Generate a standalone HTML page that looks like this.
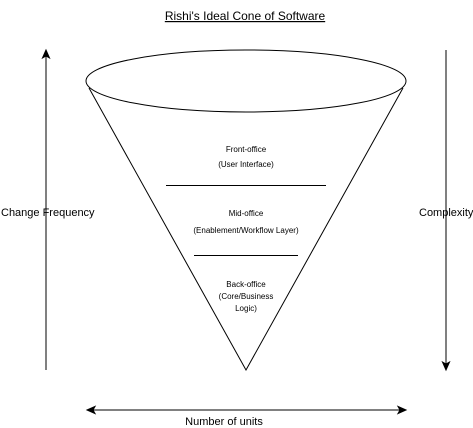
<!DOCTYPE html>
<html><head><meta charset="utf-8"><style>
html,body{margin:0;padding:0;background:#fff;}
svg{display:block;}
text{font-family:"Liberation Sans",Arial,sans-serif;fill:#000;}
</style></head><body>
<svg width="473" height="428" viewBox="0 0 473 428" xmlns="http://www.w3.org/2000/svg">
<text x="245" y="20" font-size="12" text-anchor="middle" text-decoration="underline">Rishi's Ideal Cone of Software</text>
<line x1="166" y1="16.5" x2="326" y2="16.5" stroke="none"/>
<path d="M89,88 L246,370 L403,88" fill="none" stroke="#000" stroke-width="1"/>
<ellipse cx="246" cy="81" rx="160" ry="31" fill="#fff" stroke="#000" stroke-width="1"/>
<line x1="166" y1="185.5" x2="326" y2="185.5" stroke="#000"/>
<line x1="194" y1="255.5" x2="298" y2="255.5" stroke="#000"/>
<g font-size="8" text-anchor="middle">
<text x="246" y="152">Front-office</text>
<text x="246" y="167">(User Interface)</text>
<text x="246" y="216">Mid-office</text>
<text x="246" y="233">(Enablement/Workflow Layer)</text>
<text x="246" y="287">Back-office</text>
<text x="246" y="299">(Core/Business</text>
<text x="246" y="311">Logic)</text>
</g>
<line x1="46" y1="56" x2="46" y2="370" stroke="#000"/>
<path d="M46,50 L42.5,58 L46,56 L49.5,58 Z" fill="#000" stroke="#000"/>
<line x1="446" y1="50" x2="446" y2="364" stroke="#000"/>
<path d="M446,370 L442.5,362 L446,364 L449.5,362 Z" fill="#000" stroke="#000"/>
<line x1="93" y1="410" x2="400" y2="410" stroke="#000"/>
<path d="M87,410 L95,406.5 L93,410 L95,413.5 Z" fill="#000" stroke="#000"/>
<path d="M406,410 L398,406.5 L400,410 L398,413.5 Z" fill="#000" stroke="#000"/>
<g font-size="11">
<text x="1" y="216">Change Frequency</text>
<text x="419" y="216">Complexity</text>
<text x="224" y="425" text-anchor="middle">Number of units</text>
</g>
</svg>
</body></html>
